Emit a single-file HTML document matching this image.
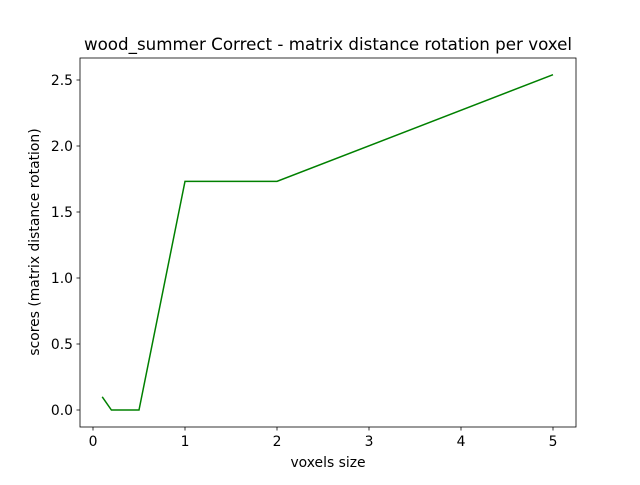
<!DOCTYPE html>
<html><head><meta charset="utf-8"><style>
body{margin:0;background:#fff;}
svg text{font-family:"DejaVu Sans","Liberation Sans",sans-serif;}
</style></head><body>
<svg id="chart" width="640" height="480" xmlns="http://www.w3.org/2000/svg">
<rect width="640" height="480" fill="#fff"/>
<text x="328" y="50" font-size="16.7" text-anchor="middle">wood_summer Correct - matrix distance rotation per voxel</text>
<g id="xt"></g><g id="yt"></g>
<polyline id="line" fill="none" stroke="#008000" stroke-width="1.5"/>
<rect x="80" y="58" width="496" height="369" fill="none" stroke="#000" stroke-width="0.8"/>
<text x="328" y="467" font-size="13.9" text-anchor="middle">voxels size</text>
<text transform="translate(39,242) rotate(-90)" font-size="13.9" text-anchor="middle">scores (matrix distance rotation)</text>
</svg>
<script>
const xValues=[0.1,0.2,0.5,1,2,5];
const yValues=[0.1,0,0,1.732,1.732,2.54];
const xTicks=[0,1,2,3,4,5];
const yTicks=[0.0,0.5,1.0,1.5,2.0,2.5];
const xs=v=>93+v*92, ys=v=>410-v*132;
const NS="http://www.w3.org/2000/svg";
const xt=document.getElementById('xt'), yt=document.getElementById('yt');
xTicks.forEach(t=>{
 const l=document.createElementNS(NS,'line');
 l.setAttribute('x1',xs(t));l.setAttribute('x2',xs(t));l.setAttribute('y1',427);l.setAttribute('y2',430.5);l.setAttribute('stroke','#000');l.setAttribute('stroke-width','0.8');
 
 
 xt.appendChild(l);
 const s=document.createElementNS(NS,'text');
 s.setAttribute('x',xs(t));s.setAttribute('y',446);s.setAttribute('font-size','13.9');s.setAttribute('text-anchor','middle');s.textContent=t;
 
 
 xt.appendChild(s);
});
yTicks.forEach(t=>{
 const l=document.createElementNS(NS,'line');
 l.setAttribute('x1',76.5);l.setAttribute('x2',80);l.setAttribute('y1',ys(t));l.setAttribute('y2',ys(t));l.setAttribute('stroke','#000');l.setAttribute('stroke-width','0.8');
 
 
 yt.appendChild(l);
 const s=document.createElementNS(NS,'text');
 s.setAttribute('x',73);s.setAttribute('y',ys(t)+5);s.setAttribute('font-size','13.9');s.setAttribute('text-anchor','end');s.textContent=t.toFixed(1);
 
 
 yt.appendChild(s);
});
document.getElementById('line').setAttribute('points',xValues.map((x,i)=>xs(x)+','+ys(yValues[i])).join(' '));
</script>
</body></html>
